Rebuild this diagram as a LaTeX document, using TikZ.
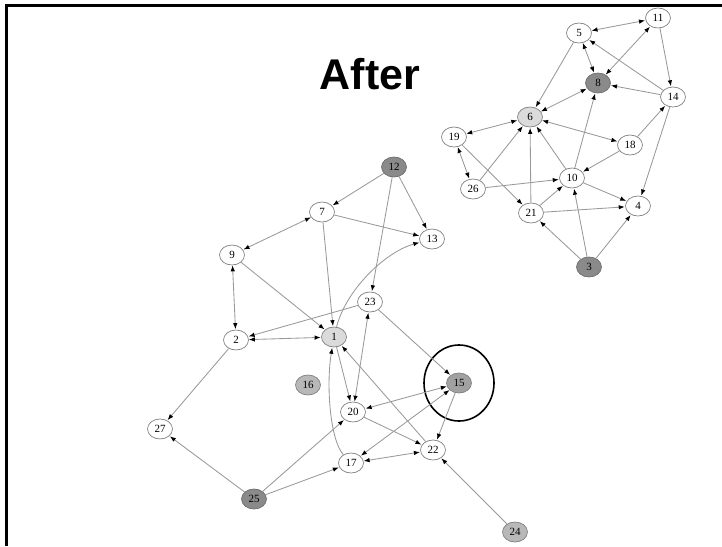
\documentclass[tikz,border=0pt]{standalone}
\usepackage{fontspec}
\setmainfont{Liberation Serif}
\newfontfamily\titlefont{Liberation Sans}
\usetikzlibrary{arrows.meta,shapes.geometric}

\definecolor{edgegray}{gray}{0.6}
\definecolor{rimgray}{gray}{0.5}
\definecolor{lightfill}{gray}{0.86}
\definecolor{midfill}{gray}{0.63}
\definecolor{softfill}{gray}{0.72}
\definecolor{darkfill}{gray}{0.54}

\tikzset{
  vtx/.style={ellipse, draw=rimgray, line width=0.7pt, fill=white,
    minimum width=25pt, minimum height=20pt, inner sep=0pt,
    font=\fontsize{11}{11}\selectfont},
  lightvtx/.style={vtx, fill=lightfill},
  midvtx/.style={vtx, fill=midfill, draw=gray},
  softvtx/.style={vtx, fill=softfill, draw=gray},
  darkvtx/.style={vtx, fill=darkfill, draw=darkfill!80!black},
  edge/.style={draw=edgegray, line width=0.85pt,
    -{Latex[length=6pt,width=4.5pt,color=black]}, shorten >=0.5pt},
  biedge/.style={edge, {Latex[length=6pt,width=4.5pt,color=black]}-{Latex[length=6pt,width=4.5pt,color=black]}},
  frameline/.style={line width=2.8pt, black},
}

\begin{document}
\begin{tikzpicture}[x=1pt,y=-1pt]
\useasboundingbox (0,0) rectangle (722,546);

% frame edges
\coordinate (fa) at (722,5.5);
\coordinate (fb) at (6.5,5.5);
\coordinate (fc) at (6.5,546);
\draw[frameline] (fa) -- (fb) -- (fc);

% title
\node[font=\titlefont\fontsize{43}{43}\selectfont\bfseries, anchor=base] (title) at (370,89) {After};

% upper cluster
\node[vtx] (n11) at (658,18) {11};
\node[vtx] (n5) at (579,33) {5};
\node[darkvtx] (n8) at (598,83) {8};
\node[vtx] (n14) at (673,97) {14};
\node[lightvtx] (n6) at (530,117) {6};
\node[vtx] (n19) at (454,137) {19};
\node[vtx] (n18) at (630,145) {18};
\node[vtx] (n10) at (572,178) {10};
\node[vtx] (n26) at (473,189) {26};
\node[vtx] (n4) at (638,206) {4};
\node[vtx] (n21) at (531,213) {21};
\node[darkvtx] (n3) at (589,267) {3};

% lower cluster
\node[darkvtx] (n12) at (394,167) {12};
\node[vtx] (n7) at (322,212) {7};
\node[vtx] (n13) at (432,239) {13};
\node[vtx] (n9) at (232,255) {9};
\node[vtx] (n23) at (370,302) {23};
\node[vtx] (n2) at (236,340) {2};
\node[lightvtx] (n1) at (334,337) {1};
\node[softvtx] (n16) at (308,385) {16};
\node[midvtx] (n15) at (459,383) {15};
\node[vtx] (n20) at (353,412) {20};
\node[vtx] (n27) at (160,429) {27};
\node[vtx] (n22) at (433,450) {22};
\node[vtx] (n17) at (351,463) {17};
\node[darkvtx] (n25) at (254,499) {25};
\node[softvtx] (n24) at (515,532) {24};

% highlight ring
\draw[line width=1.6pt] (n15.center) ellipse [x radius=35, y radius=38];

% upper cluster connectors
\draw[biedge] (n5) -- (n11);
\draw[biedge] (n8) -- (n11);
\draw[edge] (n11) -- (n14);
\draw[biedge] (n5) -- (n8);
\draw[edge] (n14) -- (n5);
\draw[edge] (n14) -- (n8);
\draw[edge] (n5) -- (n6);
\draw[biedge] (n6) -- (n8);
\draw[edge] (n14) -- (n4);
\draw[edge] (n18) -- (n14);
\draw[biedge] (n6) -- (n18);
\draw[edge] (n18) -- (n10);
\draw[edge] (n10) -- (n8);
\draw[edge] (n10) -- (n6);
\draw[biedge] (n19) -- (n6);
\draw[biedge] (n19) -- (n26);
\draw[edge] (n19) -- (n21);
\draw[edge] (n26) -- (n6);
\draw[edge] (n26) -- (n10);
\draw[edge] (n21) -- (n6);
\draw[edge] (n21) -- (n10);
\draw[edge] (n21) -- (n4);
\draw[edge] (n10) -- (n4);
\draw[edge] (n3) -- (n21);
\draw[edge] (n3) -- (n10);
\draw[edge] (n3) -- (n4);

% lower cluster connectors
\draw[edge] (n12) -- (n7);
\draw[edge] (n12) -- (n13);
\draw[edge] (n12) -- (n23);
\draw[edge] (n7) -- (n13);
\draw[biedge] (n7) -- (n9);
\draw[edge] (n7) -- (n1);
\draw[edge] (n9) -- (n1);
\draw[biedge] (n9) -- (n2);
\draw[edge] (n23) -- (n2);
\draw[biedge] (n2) -- (n1);
\draw[edge] (n1) .. controls (346,290) and (385,252) .. (n13);
\draw[edge] (n23) -- (n15);
\draw[biedge] (n20) -- (n23);
\draw[edge] (n1) -- (n20);
\draw[edge] (n2) -- (n27);
\draw[edge] (n25) -- (n27);
\draw[edge] (n25) -- (n20);
\draw[edge] (n25) -- (n17);
\draw[edge] (n17) .. controls (330,440) and (326,385) .. (n1);
\draw[edge] (n22) -- (n1);
\draw[biedge] (n15) -- (n20);
\draw[biedge] (n15) -- (n17);
\draw[edge] (n15) -- (n22);
\draw[edge] (n20) -- (n22);
\draw[biedge] (n17) -- (n22);
\draw[edge] (n24) -- (n22);
\end{tikzpicture}
\end{document}
